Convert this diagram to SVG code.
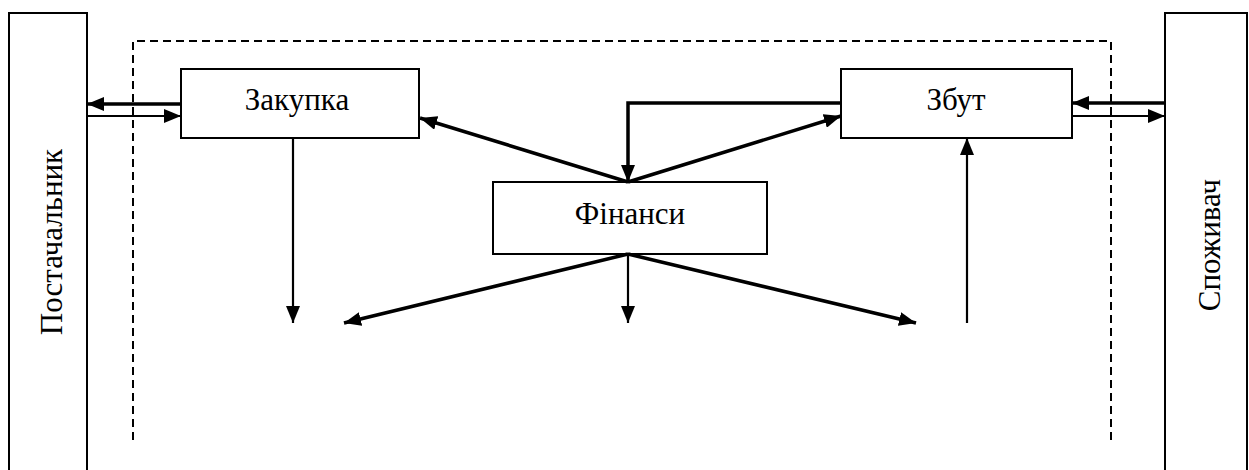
<svg xmlns="http://www.w3.org/2000/svg" width="1249" height="470" viewBox="0 0 1249 470">
  <defs>
    <marker id="arrow" markerUnits="userSpaceOnUse" markerWidth="17" markerHeight="14" refX="17" refY="7" orient="auto">
      <path d="M0,0 L17,7 L0,14 z" fill="#000"/>
    </marker>
    <style>
      .box { fill: #fff; stroke: #000; stroke-width: 2; }
      .frame { fill: none; stroke: #000; stroke-width: 2; stroke-dasharray: 8 5; }
      .thick { fill: none; stroke: #000; stroke-width: 3.5; marker-end: url(#arrow); }
      .thin { fill: none; stroke: #000; stroke-width: 2.2; marker-end: url(#arrow); }
      .caption { font-size: 31px; fill: #000; text-anchor: middle; }
    </style>
  </defs>
  <rect width="1249" height="470" fill="#fff"/>

  <!-- enterprise boundary -->
  <path class="frame" d="M133,440 V41 H1111 V440"/>

  <g id="supplier">
    <rect class="box" x="9" y="13" width="78" height="470"/>
    <text class="caption" font-family="Liberation Serif" transform="translate(62,242) rotate(-90)">Постачальник</text>
  </g>

  <g id="consumer">
    <rect class="box" x="1165" y="13" width="82" height="470"/>
    <text class="caption" font-family="Liberation Serif" transform="translate(1220,245) rotate(-90)">Споживач</text>
  </g>

  <g id="purchase">
    <rect class="box" x="181" y="69" width="238" height="69"/>
    <text class="caption" font-family="Liberation Serif" x="297" y="110">Закупка</text>
  </g>

  <g id="sales">
    <rect class="box" x="841" y="69" width="231" height="69"/>
    <text class="caption" font-family="Liberation Serif" x="956" y="110">Збут</text>
  </g>

  <g id="finance">
    <rect class="box" x="493" y="182" width="274" height="72"/>
    <text class="caption" font-family="Liberation Serif" x="630" y="224">Фінанси</text>
  </g>

  <g id="connectors">
    <!-- supplier exchange -->
    <line class="thick" x1="181" y1="104" x2="87" y2="104"/>
    <line class="thin" x1="87" y1="116" x2="181" y2="116"/>
    <!-- consumer exchange -->
    <line class="thick" x1="1165" y1="103" x2="1072" y2="103"/>
    <line class="thin" x1="1072" y1="116" x2="1165" y2="116"/>
    <!-- sales revenue to finance -->
    <path class="thick" d="M841,103 H628 V182"/>
    <!-- finance to purchase and sales -->
    <line class="thick" x1="628" y1="182" x2="420" y2="118"/>
    <line class="thick" x1="628" y1="182" x2="841" y2="116"/>
    <!-- purchase output -->
    <line class="thin" x1="293" y1="138" x2="293" y2="323"/>
    <!-- finance outputs -->
    <line class="thick" x1="628" y1="254" x2="344" y2="323"/>
    <line class="thin" x1="628" y1="254" x2="628" y2="323"/>
    <line class="thick" x1="628" y1="254" x2="916" y2="323"/>
    <!-- into sales -->
    <line class="thin" x1="967" y1="323" x2="967" y2="138"/>
  </g>
</svg>
